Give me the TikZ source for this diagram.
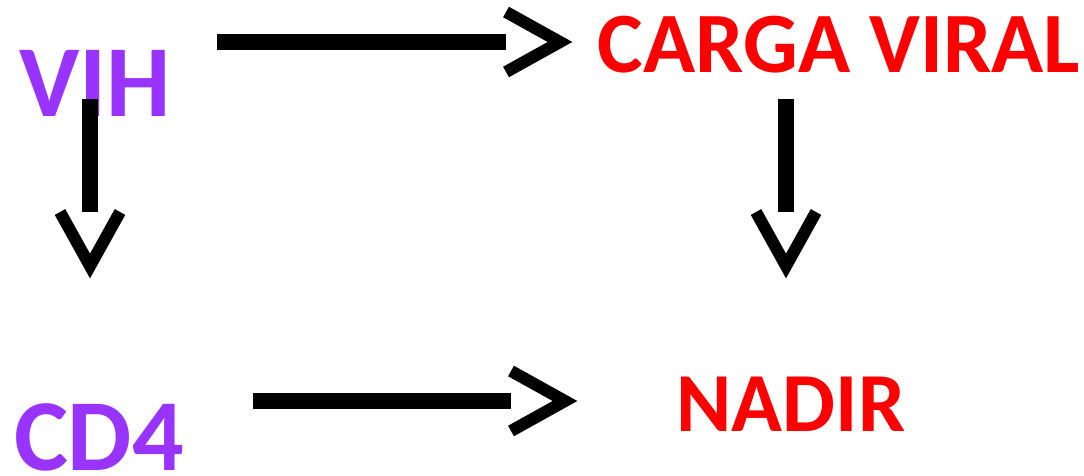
\documentclass[tikz,border=0pt]{standalone}
\usepackage{fontspec}
\setmainfont{Carlito}
\usepackage{tikz}
\usetikzlibrary{positioning}
\definecolor{vihpurple}{RGB}{153,51,255}
\definecolor{cvred}{RGB}{255,0,0}

\begin{document}
\begin{tikzpicture}[x=0.5pt,y=-0.5pt]
	\tikzset{term/.style={inner sep=0pt, anchor=base}}
	\tikzset{big/.style={font=\bfseries\fontsize{51}{51}\selectfont}}
	\tikzset{mid/.style={font=\bfseries\fontsize{43}{43}\selectfont}}
	\tikzset{shaft/.style={line width=8pt}}
	\tikzset{chev/.style={line width=6pt, line join=miter}}
	
	\useasboundingbox[fill=white] (0,0) rectangle (1084,476);
	
	\node(vih) at (95,117) [term,big,text=vihpurple] {VIH};
	\node(cd4) at (99,471) [term,big,text=vihpurple] {CD4};
	
	\node(carga) at (839,73) [term,mid,text=cvred] {CARGA VIRAL};
	\node(nadir) at (791,431) [term,mid,text=cvred,font=\bfseries\fontsize{42}{42}\selectfont] {NADIR};
	
	\coordinate(vih_r) at (217,42);
	\coordinate(carga_l) at (506,42);
	\coordinate(vih_b) at (90,99);
	\coordinate(cd4_t) at (90,212);
	\coordinate(carga_b) at (786,99);
	\coordinate(nadir_t) at (786,212);
	\coordinate(cd4_r) at (253,401);
	\coordinate(nadir_l) at (511,401);
	
	\draw[shaft] (vih_r) -- (carga_l);
	\draw[chev] (carga_l) ++(0,-30) -- ++(54,30) -- ++(-54,30);
	
	\draw[shaft] (vih_b) -- (cd4_t);
	\draw[chev] (cd4_t) ++(-30,0) -- ++(30,54) -- ++(30,-54);
	
	\draw[shaft] (carga_b) -- (nadir_t);
	\draw[chev] (nadir_t) ++(-30,0) -- ++(30,54) -- ++(30,-54);
	
	\draw[shaft] (cd4_r) -- (nadir_l);
	\draw[chev] (nadir_l) ++(0,-30) -- ++(54,30) -- ++(-54,30);
	
\end{tikzpicture}
\end{document}
